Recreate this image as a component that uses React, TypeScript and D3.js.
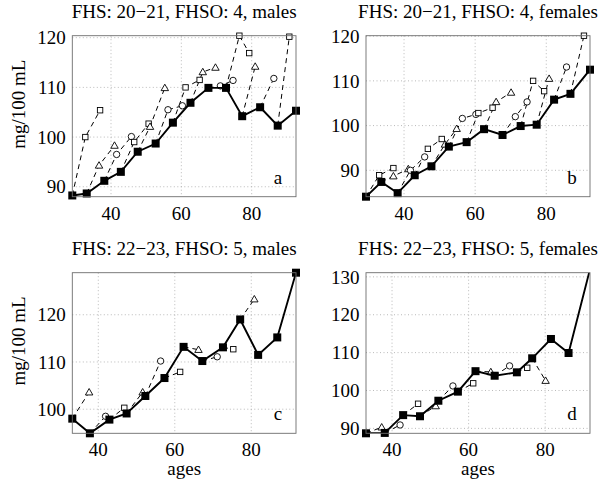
import React from "react";
import * as d3 from "d3";

// ---------- data ----------
const xTicks = [40, 60, 80];

// panel a: FHS 20-21, FHSO 4, males
const aAges = [29.0, 33.1, 38.1, 42.8, 47.6, 52.7, 57.6, 62.6, 67.7, 72.7, 77.3, 82.4, 87.4, 92.6];
const aMeans = [88.25, 88.65, 91.2, 93.0, 97.05, 98.7, 102.9, 106.9, 109.9, 109.9, 104.2, 106.0, 102.3, 105.3];
const aFollowAges = [[32.7, 36.9], [36.6, 41.0], [41.6, 45.8], [46.6, 50.7], [51.1, 55.3], [56.2, 60.3], [61.2, 65.2], [66.1, 69.7], [71.1, 74.7], [76.5, 79.3], [81.0], [86.3], [90.7], []];
const aFollowVals = [[100.0, 105.4], [94.3, 98.3], [96.5, 100.1], [99.0, 102.7], [102.1, 109.9], [105.5, 106.3], [110.0, 111.5], [113.1, 114.0], [110.3, 111.4], [120.4, 116.9], [114.2], [111.8], [120.2], []];
const aYTicks = [90, 100, 110, 120];

// panel b: FHS 20-21, FHSO 4, females
const bAges = [29.3, 33.6, 38.2, 43.0, 47.7, 52.6, 57.6, 62.5, 67.7, 72.8, 77.3, 82.2, 86.8, 92.3];
const bMeans = [84.1, 87.4, 84.9, 88.9, 90.9, 95.3, 96.3, 99.2, 97.9, 99.9, 100.2, 105.8, 107.1, 112.5];
const bFollowAges = [[33.0, 37.0], [37.0, 41.2], [41.8, 45.8], [46.7, 50.6], [51.5, 54.8], [56.4, 60.2], [60.9, 64.9], [65.9, 70.1], [71.3, 74.6], [76.3, 79.4], [80.8], [85.7], [90.6], []];
const bFollowVals = [[88.9, 90.5], [88.7, 90.3], [90.0, 93.0], [94.8, 97.0], [95.8, 99.3], [101.6, 102.5], [102.8, 104.0], [105.3, 107.4], [102.0, 105.3], [110.0, 107.7], [110.5], [113.1], [120.1], []];
const bYTicks = [90, 100, 110, 120];

// panel c: FHS 22-23, FHSO 5, males
const cAges = [33.2, 37.8, 42.9, 47.4, 52.3, 57.3, 62.3, 67.2, 72.6, 77.1, 81.8, 86.8, 91.7];
const cMeans = [98.0, 94.9, 97.8, 99.1, 102.8, 106.6, 113.2, 110.2, 113.1, 119.0, 111.5, 115.2, 128.9];
const cFollowAges = [[37.6], [41.9], [46.8], [51.6], [56.3], [61.4], [66.2], [71.1], [75.3], [80.8], [], [], []];
const cFollowVals = [[103.6], [98.5], [100.3], [103.6], [110.2], [107.9], [112.6], [111.1], [112.7], [123.3], [], [], []];
const cYTicks = [100, 110, 120];

// panel d: FHS 22-23, FHSO 5, females
const dAges = [33.2, 38.1, 42.9, 47.3, 52.1, 57.2, 61.8, 66.8, 72.6, 76.6, 81.5, 86.1, 91.7];
const dMeans = [88.7, 88.8, 93.5, 93.2, 97.3, 99.7, 105.1, 103.9, 104.8, 108.5, 113.6, 109.9, 132.0];
const dFollowAges = [[37.3], [42.1], [46.8], [51.4], [55.9], [61.2], [65.8], [70.7], [75.3], [80.1], [], [], []];
const dFollowVals = [[90.3], [90.9], [96.5], [95.9], [101.2], [101.9], [104.9], [106.5], [106.0], [102.6], [], [], []];
const dYTicks = [90, 100, 110, 120, 130];

const titles = [
  "FHS: 20\u221221, FHSO: 4, males",
  "FHS: 20\u221221, FHSO: 4, females",
  "FHS: 22\u221223, FHSO: 5, males",
  "FHS: 22\u221223, FHSO: 5, females",
];
const letters = ["a", "b", "c", "d"];
const markerCycle = ["square", "triangle", "circle"];

// ---------- layout ----------
const W = 600;
const H = 485;
const FONT = "'Liberation Serif', 'DejaVu Serif', serif";
const FS = 19;

type PanelDef = {
  id: string;
  title: string;
  letter: string;
  ages: number[];
  means: number[];
  fAges: number[][];
  fVals: number[][];
  yTicks: number[];
  xDom: [number, number];
  yDom: [number, number];
  box: [number, number, number, number]; // left, top, right, bottom
  cycleStart: number;
  yLabel: boolean;
  xLabel: boolean;
};

const panels: PanelDef[] = [
  { id: "a", title: titles[0], letter: letters[0], ages: aAges, means: aMeans, fAges: aFollowAges, fVals: aFollowVals, yTicks: aYTicks, xDom: [29.0, 92.6], yDom: [88.0, 120.4], box: [72.3, 35.7, 296, 196.7], cycleStart: 0, yLabel: true, xLabel: false },
  { id: "b", title: titles[1], letter: letters[1], ages: bAges, means: bMeans, fAges: bFollowAges, fVals: bFollowVals, yTicks: bYTicks, xDom: [29.3, 92.3], yDom: [84.1, 120.1], box: [366, 35.7, 590, 196.7], cycleStart: 0, yLabel: false, xLabel: false },
  { id: "c", title: titles[2], letter: letters[2], ages: cAges, means: cMeans, fAges: cFollowAges, fVals: cFollowVals, yTicks: cYTicks, xDom: [33.2, 91.7], yDom: [94.9, 128.9], box: [72.3, 272.7, 296, 433.3], cycleStart: 1, yLabel: true, xLabel: true },
  { id: "d", title: titles[3], letter: letters[3], ages: dAges, means: dMeans, fAges: dFollowAges, fVals: dFollowVals, yTicks: dYTicks, xDom: [33.2, 91.7], yDom: [88.7, 131.1], box: [366, 272.7, 590, 433.3], cycleStart: 1, yLabel: false, xLabel: true },
];

function Marker({ type, x, y }: { type: string; x: number; y: number }) {
  if (type === "square") {
    return <rect x={x - 2.7} y={y - 2.7} width={5.4} height={5.4} fill="#fff" stroke="#000" strokeWidth={0.9} />;
  }
  if (type === "circle") {
    return <circle cx={x} cy={y} r={3.2} fill="#fff" stroke="#000" strokeWidth={0.9} />;
  }
  const path = d3.symbol(d3.symbolTriangle, 24)() as string;
  return <path d={path} transform={`translate(${x},${y + 0.6})`} fill="#fff" stroke="#000" strokeWidth={0.9} />;
}

function Panel({ p }: { p: PanelDef }) {
  const [l, t, r, b] = p.box;
  const x = d3.scaleLinear().domain(p.xDom).range([l, r]);
  const y = d3.scaleLinear().domain(p.yDom).range([b, t]);
  const line = d3.line<[number, number]>().x((d) => x(d[0])).y((d) => y(d[1]));
  const clipId = `clip-${p.id}`;
  const solidPts: [number, number][] = p.ages.map((a, i) => [a, p.means[i]]);
  const inside = (v: number) => v >= p.yDom[0] - 0.01 && v <= p.yDom[1] + 0.01;
  const cx = (l + r) / 2;
  const cy = (t + b) / 2;
  return (
    <g>
      <defs>
        <clipPath id={clipId}>
          <rect x={l} y={t} width={r - l} height={b - t} />
        </clipPath>
      </defs>
      <rect x={l} y={t} width={r - l} height={b - t} fill="#fff" />
      {/* grid */}
      {xTicks.map((v) => (
        <line key={"gx" + v} x1={x(v)} x2={x(v)} y1={t} y2={b} stroke="#a8a8a8" strokeWidth={0.8} strokeDasharray="1,2.5" />
      ))}
      {p.yTicks.map((v) => (
        <line key={"gy" + v} x1={l} x2={r} y1={y(v)} y2={y(v)} stroke="#a8a8a8" strokeWidth={0.8} strokeDasharray="1,2.5" />
      ))}
      {/* dashed follow-up lines */}
      <g clipPath={`url(#${clipId})`}>
        {p.fAges.map((fa, i) => {
          if (fa.length === 0) return null;
          const pts: [number, number][] = [[p.ages[i], p.means[i]], ...fa.map((a, j) => [a, p.fVals[i][j]] as [number, number])];
          return <path key={"dl" + i} d={line(pts) as string} fill="none" stroke="#000" strokeWidth={1} strokeDasharray="5,4" />;
        })}
      </g>
      {p.fAges.map((fa, i) =>
        fa.map((a, j) => (
          <Marker key={`m${i}-${j}`} type={markerCycle[(i + p.cycleStart) % 3]} x={x(a)} y={y(p.fVals[i][j])} />
        ))
      )}
      {/* solid line */}
      <g clipPath={`url(#${clipId})`}>
        <path d={line(solidPts) as string} fill="none" stroke="#000" strokeWidth={1.9} />
      </g>
      {solidPts.filter((d) => inside(d[1])).map((d, i) => (
        <rect key={"s" + i} x={x(d[0]) - 4} y={y(d[1]) - 4} width={8} height={8} fill="#000" />
      ))}
      {/* box */}
      <rect x={l} y={t} width={r - l} height={b - t} fill="none" stroke="#6e6e6e" strokeWidth={0.9} />
      {/* tick labels */}
      {xTicks.map((v) => (
        <text key={"tx" + v} x={x(v)} y={b + 23} textAnchor="middle" fontSize={FS} fontFamily={FONT}>{v}</text>
      ))}
      {p.yTicks.map((v) => (
        <text key={"ty" + v} x={l - 6.5} y={y(v)} dy="0.35em" textAnchor="end" fontSize={FS} fontFamily={FONT}>{v}</text>
      ))}
      <text x={cx} y={t - 17.5} textAnchor="middle" fontSize={FS} fontFamily={FONT}>{p.title}</text>
      <text x={r - 18} y={b - 13} textAnchor="middle" fontSize={FS} fontFamily={FONT}>{p.letter}</text>
      {p.yLabel && (
        <text transform={`translate(${25},${cy - 12}) rotate(-90)`} textAnchor="middle" fontSize={FS} fontFamily={FONT}>mg/100 mL</text>
      )}
      {p.xLabel && (
        <text x={cx} y={b + 42} textAnchor="middle" fontSize={FS} fontFamily={FONT}>ages</text>
      )}
    </g>
  );
}

export default function App() {
  return (
    <svg width={W} height={H} viewBox={`0 0 ${W} ${H}`} style={{ position: "absolute", left: 0, top: 0, background: "#fff" }}>
      <rect x={0} y={0} width={W} height={H} fill="#fff" />
      {panels.map((p) => (
        <Panel key={p.id} p={p} />
      ))}
    </svg>
  );
}
